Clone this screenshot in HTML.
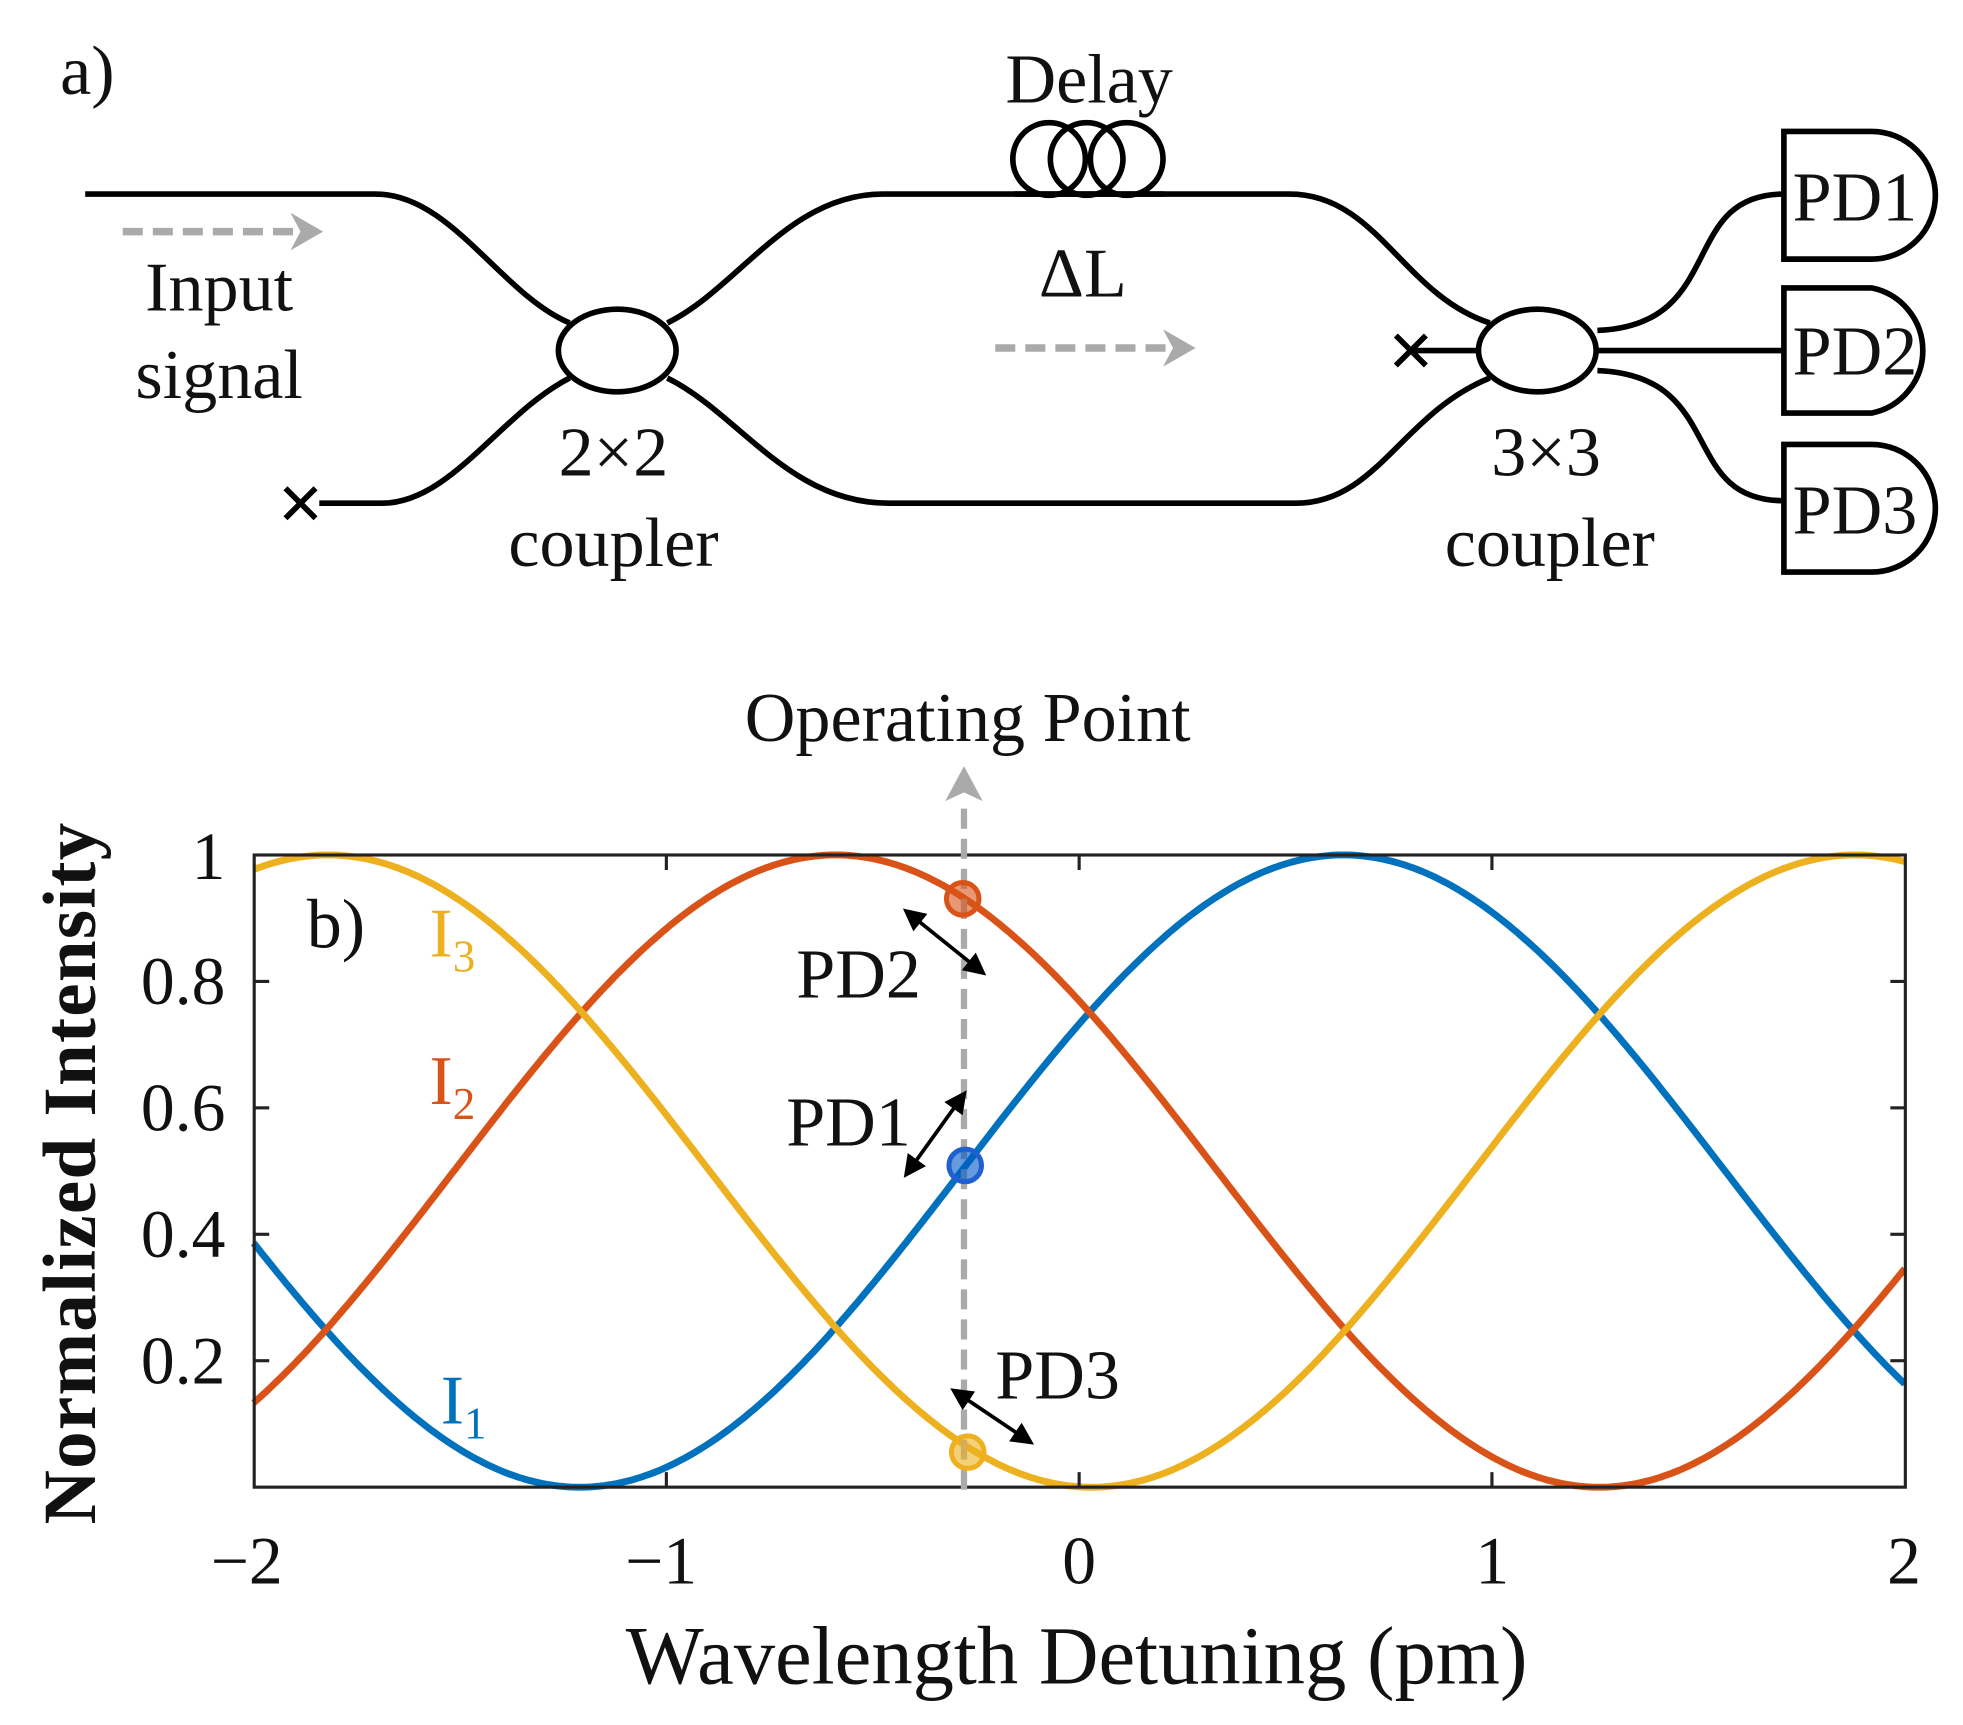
<!DOCTYPE html>
<html><head><meta charset="utf-8"><style>
html,body{margin:0;padding:0;background:#fff;}
svg{display:block;}
text{font-family:"Liberation Serif","Times New Roman",serif;fill:#111;}
</style></head><body>
<svg id="s" width="1963" height="1725" viewBox="0 0 1568 1378" xmlns="http://www.w3.org/2000/svg">
<defs>
<marker id="ba" viewBox="0 0 10 10" refX="8" refY="5" markerWidth="6" markerHeight="6" orient="auto-start-reverse"><path d="M0,0 L10,5 L0,10 z" fill="#000"/></marker>
</defs>
<g fill="none" stroke="#000" stroke-width="4.5">
<path d="M68,155 L300,155 C360,155 400,235 455,258"/>
<path d="M305,402 L255,402 M305,402 C360,402 400,330 455,302"/>
<path d="M533,258 C590,230 630,155 705,155 L1030,155 C1100,155 1120,235 1190,258"/>
<path d="M533,302 C590,330 630,402 710,402 L1035,402 C1100,402 1120,330 1190,302"/>
<ellipse cx="493" cy="280" rx="47" ry="33"/>
<ellipse cx="1228" cy="280" rx="47" ry="33"/>
<path d="M1127,280 L1182,280"/>
<path d="M1276,264 C1380,260 1340,155 1425,155"/>
<path d="M1276,280 L1425,280"/>
<path d="M1276,296 C1380,300 1340,400 1425,400"/>
<path d="M228,390 L252,414 M252,390 L228,414"/>
<path d="M1115,268 L1139,292 M1139,268 L1115,292"/>
<circle cx="838" cy="127" r="29"/><circle cx="868" cy="127" r="29"/><circle cx="900" cy="127" r="29"/>
<path d="M1425,105 L1495,105 A51,51 0 0 1 1495,207 L1425,207 Z"/>
<path d="M1425,230 L1495,230 A51,51 0 0 1 1495,330 L1425,330 Z"/>
<path d="M1425,355 L1495,355 A51,51 0 0 1 1495,457 L1425,457 Z"/>
</g>
<line x1="810" y1="155" x2="930" y2="155" stroke="#000" stroke-width="4.5"/>
<g stroke="#aaa" stroke-width="6" stroke-dasharray="16,8" fill="none">
<line x1="98" y1="185" x2="240" y2="185"/>
<line x1="795" y1="278" x2="937" y2="278"/>
</g>
<path d="M232,170 L258,185 L232,200 L240,185 Z" fill="#aaa"/>
<path d="M929,263 L955,278 L929,293 L937,278 Z" fill="#aaa"/>
<g font-size="56">
<text x="48" y="75">a)</text>
<text x="870" y="82" text-anchor="middle">Delay</text>
<text x="865" y="237" text-anchor="middle">ΔL</text>
<text x="175" y="248" text-anchor="middle">Input</text>
<text x="175" y="318" text-anchor="middle">signal</text>
<text x="490" y="380" text-anchor="middle">2×2</text>
<text x="490" y="452" text-anchor="middle">coupler</text>
<text x="1235" y="380" text-anchor="middle">3×3</text>
<text x="1238" y="452" text-anchor="middle">coupler</text>
<text x="1432" y="176">PD1</text>
<text x="1432" y="299">PD2</text>
<text x="1432" y="426">PD3</text>
</g>
<text x="773" y="592" font-size="56" text-anchor="middle">Operating Point</text>
<g id="curves"></g>
<rect x="203" y="683" width="1319" height="505" fill="none" stroke="#222" stroke-width="2.5"/>
<g stroke="#222" stroke-width="2.5" id="ticks"></g>
<g font-size="54" text-anchor="end" fill="#222">
<text x="180" y="702">1</text>
<text x="180" y="802">0.8</text>
<text x="180" y="903">0.6</text>
<text x="180" y="1004">0.4</text>
<text x="180" y="1105">0.2</text>
</g>
<g font-size="54" text-anchor="middle">
<text x="197" y="1265">−2</text>
<text x="528" y="1265">−1</text>
<text x="862" y="1265">0</text>
<text x="1192" y="1265">1</text>
<text x="1521" y="1265">2</text>
</g>
<text x="860" y="1345" font-size="66" text-anchor="middle">Wavelength Detuning (pm)</text>
<text transform="translate(76,937) rotate(-90)" font-size="60" font-weight="bold" text-anchor="middle" letter-spacing="1">Normalized Intensity</text>
<line x1="770" y1="1190" x2="770" y2="640" stroke="#aaa" stroke-width="5" stroke-dasharray="16,8"/>
<path d="M755,640 L770,612 L785,640 L770,633 Z" fill="#aaa"/>
<circle cx="769" cy="718" r="13" fill="rgba(217,83,25,0.6)" stroke="#D95319" stroke-width="4"/>
<circle cx="771" cy="931" r="13" fill="rgba(0,90,200,0.6)" stroke="#1f5fd0" stroke-width="4"/>
<circle cx="773" cy="1160" r="13" fill="rgba(237,177,32,0.6)" stroke="#EDB120" stroke-width="4"/>
<g stroke="#000" stroke-width="3" marker-start="url(#ba)" marker-end="url(#ba)">
<line x1="724" y1="728" x2="785" y2="777"/>
<line x1="770" y1="874" x2="724" y2="938"/>
<line x1="762" y1="1111" x2="823" y2="1152"/>
</g>
<g font-size="56">
<text x="245" y="757">b)</text>
<text x="636" y="797">PD2</text>
<text x="628" y="915">PD1</text>
<text x="795" y="1117">PD3</text>
<text x="343" y="764" style="fill:#EDB120">I<tspan font-size="36" dy="12">3</tspan></text>
<text x="343" y="882" style="fill:#D95319">I<tspan font-size="36" dy="12">2</tspan></text>
<text x="352" y="1137" style="fill:#0072BD">I<tspan font-size="36" dy="12">1</tspan></text>
</g>
</svg>
<script>
(function(){
var ns="http://www.w3.org/2000/svg",g=document.getElementById("curves");
var P=3.7,defs=[["#0072BD",0.64],["#D95319",-0.59],["#EDB120",-1.82]];
defs.forEach(function(d){var pts=[];for(var i=0;i<=400;i++){var x=-2+4*i/400;var y=0.5+0.5*Math.cos(2*Math.PI*(x-d[1])/P);pts.push((862+x*329.75).toFixed(1)+","+(1188-y*505).toFixed(1));}
var p=document.createElementNS(ns,"polyline");p.setAttribute("points",pts.join(" "));p.setAttribute("fill","none");p.setAttribute("stroke",d[0]);p.setAttribute("stroke-width","5.5");g.appendChild(p);});
var t=document.getElementById("ticks");function L(a,b,c,e){var l=document.createElementNS(ns,"line");l.setAttribute("x1",a);l.setAttribute("y1",b);l.setAttribute("x2",c);l.setAttribute("y2",e);t.appendChild(l);}
[532.25,862,1191.75].forEach(function(x){L(x,683,x,695);L(x,1188,x,1176);});
[0.2,0.4,0.6,0.8].forEach(function(v){var y=1188-v*505;L(203,y,215,y);L(1522,y,1510,y);});
})();
</script>
</body></html>
